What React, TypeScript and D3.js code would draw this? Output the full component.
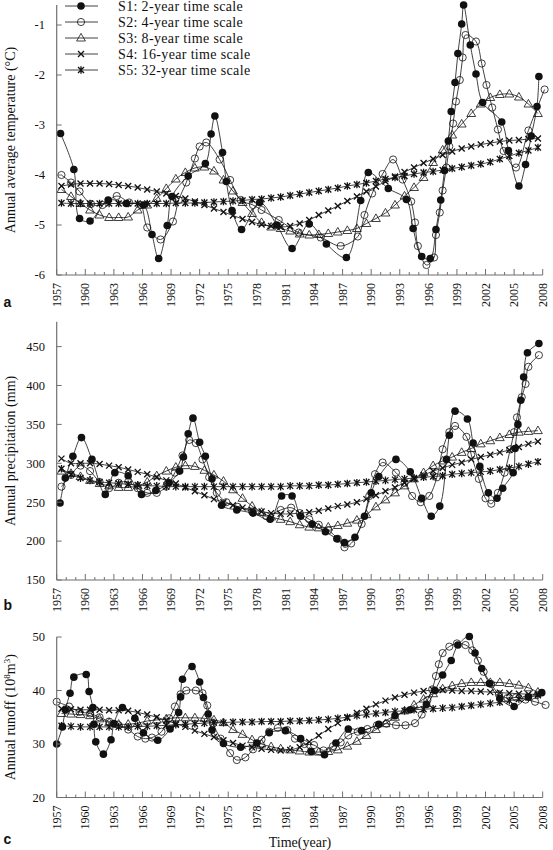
import React from 'react';
import * as d3 from 'd3';

type Pt = [number, number];

// ---------- data ----------
const yearsMid: number[] = d3.range(1957.5, 2008, 1); // 51 annual positions
const tickYears: number[] = d3.range(1957, 2009, 1);
const labelYears: number[] = d3.range(1957, 2009, 3);

const seriesNames = [
  'S1: 2-year time scale',
  'S2: 4-year time scale',
  'S3: 8-year time scale',
  'S4: 16-year time scale',
  'S5: 32-year time scale',
];

// Panel a: temperature
const tempS1: Pt[] = [
  [1957.4, -3.17], [1958.8, -3.89], [1959.4, -4.87], [1960.5, -4.92], [1962.4, -4.5], [1964.3, -4.57],
  [1966.1, -4.6], [1967.0, -5.19], [1967.7, -5.67], [1968.6, -5.01], [1969.1, -4.43], [1970.8, -4.02],
  [1972.6, -3.77], [1973.2, -3.18], [1973.6, -2.82], [1974.4, -3.55], [1974.8, -4.13], [1975.4, -4.71],
  [1976.4, -5.09], [1978.3, -4.55], [1980.1, -5.0], [1981.7, -5.47], [1983.5, -4.98], [1985.3, -5.38],
  [1987.4, -5.65], [1988.9, -4.51], [1989.7, -3.95], [1991.8, -4.27], [1993.7, -4.49], [1994.4, -5.07],
  [1995.3, -5.63], [1996.2, -5.67], [1996.8, -5.09], [1997.3, -4.5], [1997.7, -3.91], [1998.1, -3.32],
  [1998.4, -2.73], [1998.8, -2.15], [1999.1, -1.57], [1999.5, -0.98], [1999.7, -0.6], [2000.4, -1.4],
  [2001.0, -1.98], [2001.7, -2.55], [2003.7, -2.94], [2004.4, -3.51], [2005.5, -4.22], [2006.2, -3.79],
  [2006.8, -3.22], [2007.4, -2.63], [2007.6, -2.03],
];
const tempS2: Pt[] = [
  [1957.5, -4.0], [1958.5, -4.15], [1959.4, -4.33], [1960.6, -4.58], [1961.8, -4.6], [1963.3, -4.42],
  [1964.6, -4.55], [1965.8, -4.6], [1966.5, -5.05], [1967.9, -5.29], [1969.2, -4.93], [1969.8, -4.5],
  [1970.6, -4.15], [1971.5, -3.67], [1972.0, -3.43], [1972.7, -3.35], [1974.1, -3.69], [1975.2, -4.1],
  [1976.3, -4.5], [1977.6, -4.6], [1978.5, -4.7], [1980.3, -4.9], [1982.4, -5.15], [1984.7, -5.25],
  [1986.8, -5.42], [1988.6, -5.23], [1989.3, -4.8], [1990.1, -4.37], [1991.2, -3.98], [1992.3, -3.69],
  [1993.3, -4.09], [1994.2, -4.53], [1994.6, -4.95], [1994.9, -5.42], [1995.8, -5.8], [1996.6, -5.65],
  [1996.8, -5.2], [1997.2, -4.75], [1997.5, -4.31], [1997.9, -3.85], [1998.2, -3.43], [1998.6, -2.97],
  [1998.9, -2.53], [1999.3, -2.1], [1999.6, -1.65], [1999.9, -1.2], [2001.0, -1.33], [2001.6, -1.77],
  [2002.1, -2.2], [2002.7, -2.65], [2003.3, -3.09], [2003.9, -3.52], [2005.2, -3.85], [2006.5, -3.11],
  [2008.2, -2.29],
];
const tempS3: number[] = [
  -4.29, -4.43, -4.57, -4.7, -4.8, -4.85, -4.85, -4.84, -4.7, -4.6,
  -4.47, -4.27, -4.08, -3.95, -3.86, -3.84, -3.92, -4.1, -4.32, -4.55,
  -4.77, -4.95, -5.04, -5.07, -5.12, -5.18, -5.2, -5.19, -5.17, -5.14,
  -5.11, -5.07, -4.97, -4.87, -4.76, -4.6, -4.42, -4.25, -4.05, -3.75,
  -3.5, -3.2, -2.98, -2.77, -2.58, -2.45, -2.39, -2.38, -2.44, -2.58,
  -2.77,
];
const tempS4: number[] = [
  -4.22, -4.19, -4.17, -4.17, -4.17, -4.18, -4.2, -4.22, -4.25, -4.29,
  -4.33, -4.37, -4.42, -4.47, -4.53, -4.6, -4.67, -4.74, -4.81, -4.88,
  -4.94, -4.99, -5.02, -5.04, -5.02, -4.97, -4.9, -4.8, -4.71, -4.62,
  -4.52, -4.43, -4.33, -4.23, -4.13, -4.03, -3.94, -3.85, -3.76, -3.68,
  -3.6, -3.53, -3.47, -3.43, -3.39, -3.36, -3.33, -3.31, -3.3, -3.28,
  -3.27,
];
const tempS5: number[] = [
  -4.56, -4.57, -4.57, -4.57, -4.57, -4.57, -4.57, -4.57, -4.57, -4.57,
  -4.57, -4.57, -4.56, -4.56, -4.56, -4.55, -4.54, -4.53, -4.52, -4.51,
  -4.49, -4.48, -4.46, -4.44, -4.41, -4.38, -4.35, -4.32, -4.29, -4.26,
  -4.22, -4.19, -4.16, -4.12, -4.08, -4.05, -4.02, -3.98, -3.95, -3.93,
  -3.9, -3.87, -3.84, -3.81, -3.78, -3.74, -3.68, -3.62, -3.56, -3.51,
  -3.45,
];

// Panel b: precipitation
const precS1: Pt[] = [
  [1957.35, 249], [1957.9, 281], [1958.7, 309], [1959.6, 333], [1960.7, 305], [1962.1, 260],
  [1963.1, 288], [1964.5, 284], [1965.9, 260], [1967.4, 265], [1968.8, 275], [1969.9, 290],
  [1970.3, 308], [1970.8, 338], [1971.3, 358], [1972.0, 327], [1972.6, 309], [1973.3, 280],
  [1974.3, 246], [1975.9, 240], [1977.6, 236], [1979.4, 228], [1980.6, 258], [1981.7, 258],
  [1982.6, 232], [1983.8, 222], [1985.2, 212], [1986.4, 203], [1987.2, 198], [1988.3, 205],
  [1989.3, 232], [1990.0, 262], [1990.8, 283], [1992.6, 305], [1994.1, 289], [1995.3, 255],
  [1996.3, 232], [1997.2, 245], [1997.9, 305], [1998.2, 336], [1998.8, 367], [2000.1, 357],
  [2000.7, 326], [2001.4, 296], [2002.3, 262], [2003.2, 255], [2003.8, 268], [2004.9, 288],
  [2005.1, 319], [2005.4, 350], [2005.7, 381], [2006.0, 411], [2006.4, 442], [2007.6, 454],
];
const precS2: Pt[] = [
  [1957.5, 270], [1958.5, 285], [1959.5, 297], [1960.5, 290], [1961.5, 276], [1962.5, 268],
  [1963.5, 275], [1964.5, 276], [1965.5, 268], [1966.5, 262], [1967.5, 262], [1968.5, 270],
  [1969.4, 288], [1970.2, 310], [1970.9, 330], [1971.6, 326], [1972.3, 305], [1973.0, 282],
  [1973.8, 262], [1974.8, 250], [1976.0, 244], [1977.5, 238], [1979.0, 232], [1980.5, 240],
  [1981.6, 243], [1982.5, 236], [1983.5, 228], [1984.5, 221], [1985.5, 214], [1986.5, 203],
  [1987.2, 192], [1987.9, 197], [1989.0, 222], [1989.8, 258], [1990.4, 286], [1991.2, 301],
  [1992.6, 288], [1993.5, 275], [1994.3, 258], [1995.2, 250], [1996.1, 258], [1996.9, 282],
  [1997.5, 318], [1998.2, 340], [1998.8, 348], [2000.0, 334], [2000.5, 311], [2001.3, 280],
  [2002.0, 255], [2002.6, 248], [2003.3, 262], [2004.0, 288], [2004.6, 318], [2005.0, 340],
  [2005.3, 359], [2005.8, 385], [2006.2, 402], [2006.5, 424], [2007.6, 439],
];
const precS3: number[] = [
  290, 287, 283, 278, 274, 271, 269, 269, 271, 276,
  284, 290, 295, 297, 296, 291, 285, 277, 266, 255,
  245, 237, 231, 228, 225, 221, 218, 217, 218, 220,
  223, 227, 234, 244, 253, 262, 271, 280, 288, 297,
  303, 308, 314, 319, 325, 329, 333, 337, 340, 341,
  342,
];
const precS4: number[] = [
  306, 300, 300, 300, 299, 297, 295, 292, 289, 286,
  282, 278, 274, 269, 264, 259, 254, 250, 246, 243,
  240, 238, 236, 235, 235, 236, 237, 239, 242, 245,
  247, 250, 254, 259, 264, 269, 275, 280, 285, 290,
  294, 298, 301, 305, 308, 311, 314, 317, 321, 325,
  328,
];
const precS5: number[] = [
  293, 286, 281, 278, 276, 275, 274, 273, 272, 271,
  271, 270, 270, 270, 270, 270, 270, 270, 270, 270,
  270, 270, 270, 270, 271, 271, 271, 272, 272, 273,
  274, 275, 276, 277, 278, 279, 280, 281, 282, 283,
  284, 286, 287, 288, 289, 290, 292, 294, 296, 299,
  302,
];

// Panel c: runoff
const runS1: Pt[] = [
  [1957.0, 30.0], [1957.6, 33.2], [1957.9, 36.4], [1958.4, 39.5], [1958.8, 42.5], [1960.1, 43.0],
  [1960.4, 39.8], [1960.8, 36.8], [1960.9, 33.7], [1961.1, 30.4], [1961.9, 28.1], [1962.7, 30.8],
  [1963.0, 33.8], [1963.9, 36.8], [1965.2, 34.8], [1966.1, 32.1], [1967.6, 30.7], [1968.9, 32.8],
  [1969.8, 35.9], [1970.0, 38.8], [1970.2, 42.1], [1971.2, 44.5], [1972.0, 41.6], [1972.4, 38.7],
  [1972.9, 35.6], [1973.3, 32.6], [1974.5, 30.1], [1976.3, 29.4], [1978.0, 30.2], [1979.3, 32.1],
  [1981.0, 32.5], [1982.6, 31.0], [1983.7, 28.6], [1985.1, 28.0], [1986.3, 30.2], [1987.6, 32.8],
  [1989.0, 32.5], [1990.8, 33.7], [1992.5, 35.3], [1994.1, 36.4], [1995.8, 37.4], [1996.7, 40.0],
  [1997.5, 42.9], [1998.4, 45.6], [1999.1, 48.5], [2000.3, 50.1], [2000.9, 47.0], [2001.6, 44.1],
  [2002.4, 41.3], [2003.5, 38.5], [2005.0, 37.0], [2006.5, 38.8], [2007.9, 39.6],
];
const runS2: Pt[] = [
  [1957.0, 37.9], [1958.3, 37.0], [1959.4, 36.0], [1960.5, 35.7], [1961.5, 35.0], [1962.5, 34.2],
  [1963.5, 33.5], [1964.5, 32.7], [1965.5, 31.4], [1966.3, 31.0], [1967.0, 31.2], [1968.0, 32.3],
  [1968.8, 34.8], [1969.4, 37.0], [1970.0, 39.3], [1970.6, 40.0], [1971.6, 40.0], [1972.3, 39.5],
  [1972.8, 37.2], [1973.4, 33.8], [1974.2, 31.0], [1975.2, 28.3], [1975.9, 27.0], [1976.8, 27.5],
  [1977.6, 29.0], [1978.5, 30.8], [1979.3, 32.3], [1980.2, 33.0], [1981.2, 32.6], [1982.0, 31.0],
  [1983.0, 30.0], [1984.0, 29.8], [1985.0, 28.8], [1986.0, 29.6], [1986.8, 30.3], [1987.6, 31.6],
  [1988.6, 32.3], [1989.6, 32.8], [1990.6, 33.5], [1991.6, 33.8], [1992.6, 33.5], [1993.6, 33.5],
  [1994.6, 33.9], [1995.3, 35.5], [1995.9, 38.2], [1996.4, 40.2], [1996.8, 42.7], [1997.1, 44.9],
  [1997.5, 47.0], [1998.2, 48.2], [1999.0, 48.8], [1999.9, 48.5], [2000.6, 47.5], [2001.2, 45.6],
  [2001.8, 43.5], [2002.6, 41.2], [2003.4, 39.3], [2004.3, 38.6], [2005.2, 38.7], [2006.2, 38.3],
  [2007.2, 37.9], [2008.3, 37.3],
];
const runS3: number[] = [
  35.7, 35.6, 35.5, 35.3, 34.7, 34.0, 33.7, 33.7, 33.9, 34.3,
  34.5, 34.7, 34.9, 34.9, 34.9, 34.8, 34.5, 34.0, 32.7, 31.8,
  30.8, 30.0, 29.5, 29.1, 28.9, 28.7, 28.5, 28.5, 28.6, 28.9,
  29.6, 30.5, 31.6, 32.7, 33.8, 35.0, 36.2, 37.3, 38.4, 39.4,
  40.3, 40.9, 41.3, 41.5, 41.5, 41.5, 41.5, 41.3, 41.0, 40.5,
  39.7,
];
const runS4: number[] = [
  36.6, 36.5, 36.4, 36.4, 36.4, 36.3, 36.3, 36.2, 35.9, 35.5,
  35.0, 34.4, 33.8, 33.2, 32.5, 31.9, 31.3, 30.7, 30.2, 29.7,
  29.4, 29.1, 28.9, 28.8, 28.9, 29.4, 30.4, 31.6, 32.8, 33.9,
  34.9, 35.8, 36.6, 37.4, 38.1, 38.7, 39.2, 39.6, 39.9, 40.1,
  40.1, 40.0, 39.9, 39.9, 39.8, 39.7, 39.6, 39.5, 39.4, 39.3,
  39.3,
];
const runS5: number[] = [
  33.4, 33.3, 33.2, 33.2, 33.2, 33.2, 33.2, 33.2, 33.3, 33.3,
  33.4, 33.5, 33.6, 33.7, 33.8, 33.9, 34.0, 34.0, 34.1, 34.1,
  34.1, 34.2, 34.2, 34.2, 34.3, 34.3, 34.4, 34.5, 34.6, 34.8,
  35.0, 35.3, 35.5, 35.7, 35.9, 36.1, 36.2, 36.4, 36.5, 36.6,
  36.7, 36.8, 37.0, 37.2, 37.4, 37.6, 37.8, 38.1, 38.4, 38.7,
  39.1,
];

const tempTicks = [-6, -5, -4, -3, -2, -1];
const precTicks = [150, 200, 250, 300, 350, 400, 450];
const runTicks = [20, 30, 40, 50];

// ---------- helpers ----------
const annual = (vals: number[]): Pt[] => vals.map((v, i) => [yearsMid[i], v] as Pt);

const X_LEFT = 56.7;
const X_RIGHT = 542.7;
const x = d3.scaleLinear().domain([1957, 2008]).range([X_LEFT, X_RIGHT]);

const SERIF = '"Liberation Serif", "Times New Roman", serif';
const SANS = '"Liberation Sans", Arial, sans-serif';
const AXIS = '#707070';
const INK = '#111';

type MarkerKind = 'filled' | 'open' | 'tri' | 'cross' | 'star';
const markerKinds: MarkerKind[] = ['filled', 'open', 'tri', 'cross', 'star'];

function Marker({ kind, cx, cy }: { kind: MarkerKind; cx: number; cy: number }) {
  const t = `translate(${cx},${cy})`;
  switch (kind) {
    case 'filled':
      return <circle cx={cx} cy={cy} r={3.8} fill={INK} />;
    case 'open':
      return <circle cx={cx} cy={cy} r={3.6} fill="none" stroke={INK} strokeWidth={0.8} />;
    case 'tri':
      return <path transform={t} d="M0,-4.6L4.4,3L-4.4,3Z" fill="none" stroke={INK} strokeWidth={0.8} />;
    case 'cross':
      return <path transform={t} d="M-3,-3L3,3M-3,3L3,-3" fill="none" stroke={INK} strokeWidth={1.3} />;
    case 'star':
      return (
        <path transform={t} d="M-3,-3L3,3M-3,3L3,-3M0,-3.8L0,3.8" fill="none" stroke={INK} strokeWidth={1.3} />
      );
  }
  return null;
}

interface PanelDef {
  letter: string;
  letterY: number;
  y: d3.ScaleLinear<number, number>;
  yTop: number;
  yBottom: number;
  ticks: number[];
  title: React.ReactNode;
  series: Pt[][];
}

const panels: PanelDef[] = [
  {
    letter: 'a',
    letterY: 307,
    y: d3.scaleLinear().domain([-6, -0.6]).range([275, 5]),
    yTop: 5,
    yBottom: 275,
    ticks: tempTicks,
    title: 'Annual average temperature (°C)',
    series: [tempS1, tempS2, annual(tempS3), annual(tempS4), annual(tempS5)],
  },
  {
    letter: 'b',
    letterY: 610,
    y: d3.scaleLinear().domain([150, 482]).range([580, 321.7]),
    yTop: 321.7,
    yBottom: 580,
    ticks: precTicks,
    title: 'Annual precipitation (mm)',
    series: [precS1, precS2, annual(precS3), annual(precS4), annual(precS5)],
  },
  {
    letter: 'c',
    letterY: 843.5,
    y: d3.scaleLinear().domain([20, 50]).range([797.5, 637]),
    yTop: 637,
    yBottom: 797.5,
    ticks: runTicks,
    title: (
      <>
        Annual runoff (10
        <tspan dy={-5} fontSize={9}>8</tspan>
        <tspan dy={5}>m</tspan>
        <tspan dy={-5} fontSize={9}>3</tspan>
        <tspan dy={5}>)</tspan>
      </>
    ),
    series: [runS1, runS2, annual(runS3), annual(runS4), annual(runS5)],
  },
];

function Panel({ p }: { p: PanelDef }) {
  const line = d3
    .line<Pt>()
    .x((d) => x(d[0]))
    .y((d) => p.y(d[1]))
    .curve(d3.curveCatmullRom.alpha(0.5));
  const midY = (p.yTop + p.yBottom) / 2;
  const order = [4, 3, 2, 1, 0];
  return (
    <g>
      {/* series */}
      {order.map((si) => (
        <g key={si}>
          <path d={line(p.series[si]) || ''} fill="none" stroke={INK} strokeWidth={0.8} />
          {p.series[si].map((d, i) => (
            <Marker key={i} kind={markerKinds[si]} cx={x(d[0])} cy={p.y(d[1])} />
          ))}
        </g>
      ))}
      {/* y axis */}
      <line x1={X_LEFT} x2={X_LEFT} y1={p.yTop} y2={p.yBottom} stroke={AXIS} strokeWidth={1.2} />
      {p.ticks.map((t) => (
        <g key={t}>
          <line x1={X_LEFT} x2={X_LEFT + 5} y1={p.y(t)} y2={p.y(t)} stroke={AXIS} strokeWidth={1} />
          <text
            x={45}
            y={p.y(t)}
            dy="0.35em"
            textAnchor="end"
            fontFamily={SERIF}
            fontSize={12.5}
            fill={INK}
          >
            {t < 0 ? `-${Math.abs(t)}` : t}
          </text>
        </g>
      ))}
      {/* x axis */}
      <line x1={X_LEFT} x2={X_RIGHT} y1={p.yBottom} y2={p.yBottom} stroke={AXIS} strokeWidth={1.2} />
      {tickYears.map((yr) => {
        const major = (yr - 1957) % 3 === 0;
        return (
          <line
            key={yr}
            x1={x(yr)}
            x2={x(yr)}
            y1={p.yBottom}
            y2={p.yBottom - (major ? 6 : 3)}
            stroke={AXIS}
            strokeWidth={1}
          />
        );
      })}
      {labelYears.map((yr) => (
        <text
          key={yr}
          transform={`translate(${x(yr)},${p.yBottom + 8}) rotate(-90)`}
          dy="0.35em"
          textAnchor="end"
          fontFamily={SERIF}
          fontSize={12}
          fill={INK}
        >
          {yr}
        </text>
      ))}
      {/* y title */}
      <text
        transform={`translate(15,${midY}) rotate(-90)`}
        textAnchor="middle"
        fontFamily={SERIF}
        fontSize={14}
        fill={INK}
      >
        {p.title}
      </text>
      {/* panel letter */}
      <text x={3.5} y={p.letterY} fontFamily={SANS} fontWeight="bold" fontSize={14} fill={INK}>
        {p.letter}
      </text>
    </g>
  );
}

function Legend() {
  return (
    <g>
      {seriesNames.map((name, i) => {
        const cy = 6 + i * 16;
        return (
          <g key={name}>
            <line x1={65} x2={98} y1={cy} y2={cy} stroke={INK} strokeWidth={0.8} />
            <Marker kind={markerKinds[i]} cx={81} cy={cy} />
            <text
              x={118}
              y={cy}
              dy="0.36em"
              fontFamily={SERIF}
              fontSize={14}
              letterSpacing={0.35}
              fill={INK}
            >
              {name}
            </text>
          </g>
        );
      })}
    </g>
  );
}

export default function App() {
  return (
    <svg
      width={553}
      height={850}
      viewBox="0 0 553 850"
      style={{ position: 'absolute', left: 0, top: 0, background: '#fff' }}
    >
      <rect x={0} y={0} width={553} height={850} fill="#fff" />
      {panels.map((p) => (
        <Panel key={p.letter} p={p} />
      ))}
      <Legend />
      <text x={300} y={846.5} textAnchor="middle" fontFamily={SERIF} fontSize={14} fill={INK}>
        Time(year)
      </text>
    </svg>
  );
}
